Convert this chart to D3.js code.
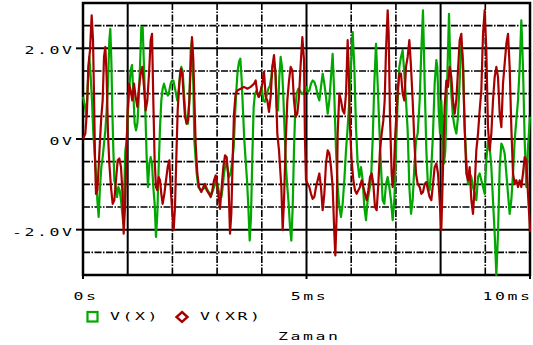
<!DOCTYPE html>
<html>
<head>
<meta charset="utf-8">
<script src="https://cdn.jsdelivr.net/npm/d3@7/dist/d3.min.js"></script>
<style>
  html, body { margin: 0; padding: 0; background: #fff; }
  svg { display: block; }
</style>
</head>
<body>
<svg id="chart" width="533" height="345"></svg>
<script>
// Transient analysis: V(X) and V(XR), 0 .. 10 ms

// V(X) samples: time (ms) and voltage (V)
const timeX = [
  0,0.045,0.075,0.104,0.142,0.172,0.201,0.231,0.261,0.291,
  0.321,0.350,0.380,0.410,0.440,0.470,0.500,0.529,0.559,0.589,
  0.611,0.634,0.656,0.679,0.701,0.731,0.761,0.790,0.820,0.850,
  0.880,0.902,0.925,0.947,0.977,1.007,1.037,1.066,1.096,1.126,
  1.156,1.186,1.216,1.245,1.275,1.305,1.335,1.365,1.394,1.424,
  1.454,1.484,1.514,1.544,1.573,1.603,1.633,1.663,1.693,1.723,
  1.752,1.782,1.812,1.842,1.872,1.902,1.931,1.961,1.991,2.021,
  2.051,2.081,2.110,2.140,2.170,2.200,2.230,2.260,2.289,2.319,
  2.349,2.379,2.409,2.438,2.468,2.491,
  2.543,2.580,2.632,2.692,2.752,2.811,2.871,2.931,2.990,3.050,
  3.095,3.125,3.154,3.192,3.229,3.266,3.303,3.341,3.371,3.400,
  3.430,3.460,3.490,3.520,3.550,3.579,3.609,3.639,3.669,3.699,
  3.729,3.758,3.788,3.818,3.848,3.885,3.922,3.960,3.997,4.034,
  4.072,4.109,4.146,4.183,4.213,4.243,4.273,4.303,4.333,4.362,
  4.392,4.422,4.452,4.482,4.512,4.541,4.571,4.601,4.631,4.661,
  4.691,4.720,4.750,4.780,4.817,4.855,4.892,4.929,4.966,
  4.989,5.026,5.063,5.101,5.138,5.175,5.213,5.250,5.287,5.324,
  5.362,5.399,5.436,5.474,5.511,5.548,5.585,5.623,5.660,5.697,
  5.735,5.772,5.809,5.846,5.884,5.921,5.958,5.995,6.033,6.070,
  6.107,6.145,6.182,6.219,6.256,6.294,6.331,6.368,6.406,6.443,
  6.480,6.517,6.555,6.592,6.629,6.667,6.704,6.741,6.779,6.816,
  6.853,6.890,6.928,6.965,7.002,7.040,7.077,7.114,7.151,7.189,
  7.226,7.263,7.301,7.338,7.375,7.412,7.450,7.487,
  7.532,7.569,7.606,7.644,7.681,7.718,7.755,7.793,7.830,7.867,
  7.905,7.927,7.957,7.987,8.016,8.054,8.076,8.106,8.136,8.166,
  8.188,8.218,8.240,8.277,8.315,8.352,8.389,8.427,8.464,8.501,
  8.538,8.576,8.613,8.650,8.688,8.725,8.762,8.799,8.837,8.874,
  8.911,8.949,8.986,9.023,9.060,9.098,9.135,9.172,9.210,9.247,
  9.284,9.322,9.359,9.396,9.433,9.471,9.508,9.545,9.582,9.620,
  9.657,9.694,9.732,9.769,9.806,9.843,9.881,9.918,9.955,10
];
const valueX = [
  0.93,0.71,0.49,1.15,1.81,1.37,0.85,0.12,-0.32,-0.76,
  -1.35,-1.72,-1.06,-0.62,-0.40,-0.10,0.19,0.63,1.22,2.18,
  2.43,1.74,0.63,-0.25,-0.91,-1.06,-1.28,-1.06,-1.13,-1.35,
  -1.65,-1.87,-1.06,-0.25,-0.03,0.63,1.15,1.51,1.63,1.00,
  0.34,0.19,0.34,0.85,1.59,2.47,2.47,1.59,0.63,-0.40,
  -1.06,-0.54,-0.40,-0.54,-1.06,-1.43,-2.16,-1.65,-0.62,0.26,
  0.85,1.11,1.22,1.11,1.00,0.96,1.07,1.22,1.29,1.29,
  1.15,1.00,0.85,1.07,1.44,1.59,1.48,1.00,0.56,0.34,
  0.34,0.85,1.96,2.18,1.22,-0.03,
  -0.76,-1.06,-1.13,-1.10,-1.06,-1.17,-1.24,-1.06,-0.91,-1.21,
  -1.28,-1.06,-0.76,-0.54,-0.62,-0.84,-0.76,-0.47,-0.18,0.49,
  1.07,1.51,1.70,1.77,1.29,0.63,-0.03,-0.47,-0.91,-1.50,
  -2.24,-1.72,-0.40,0.71,1.00,1.07,0.93,0.96,1.15,0.85,
  0.82,0.96,1.11,1.18,1.37,1.63,1.70,1.51,0.71,0.63,
  1.37,1.81,1.59,0.93,0.12,-0.62,-1.06,-1.43,-1.94,-2.24,
  -1.50,-0.25,0.71,1.00,1.11,1.07,1.00,1.00,1.11,
  1.15,1.04,1.07,1.22,1.29,1.26,1.15,0.96,0.85,1.15,
  1.44,1.22,0.93,0.56,0.85,1.37,1.88,0.93,-0.25,-1.06,
  -1.50,-1.72,-1.43,-0.91,-0.25,0.26,0.85,1.59,2.36,1.59,
  0.26,-0.54,-0.84,-0.62,-0.91,-1.50,-1.79,-1.35,-1.13,-0.91,
  -0.03,1.22,2.10,1.22,0.26,-0.62,-1.35,-1.43,-0.99,-0.84,
  -1.06,-1.35,-1.79,-1.35,-0.25,0.85,1.59,1.81,1.96,1.44,
  0.85,0.19,-1.06,-1.65,-1.35,-0.62,-0.03,0.12,
  0.85,1.96,2.84,1.22,-0.25,-1.06,-1.13,-0.62,0.12,1.22,
  1.74,1.59,0.63,0.12,0.85,-0.03,-0.54,-0.25,0.85,1.96,
  2.76,1.59,1.00,0.49,0.26,0.12,0.49,1.29,2.10,1.74,
  0.26,-0.47,-0.99,-0.76,-0.84,-1.06,-1.21,-1.35,-0.84,-0.76,
  -0.91,-1.06,-1.21,-0.47,-0.03,-0.18,-0.62,-1.35,-2.09,-3.0,
  -2.09,-0.62,-0.10,-0.18,-0.32,-0.76,-1.21,-1.65,-1.35,-0.76,
  -0.03,0.41,0.85,1.59,2.62,1.59,-0.03,-1.06,-0.18,0.49
];

// V(XR) samples: time (ms) and voltage (V)
const timeXR = [
  0,0.052,0.089,0.119,0.157,0.194,0.224,0.246,0.268,0.291,
  0.321,0.350,0.380,0.410,0.440,0.470,0.500,0.529,0.559,0.589,
  0.626,0.664,0.701,0.738,0.776,0.813,0.850,0.880,0.910,0.940,
  0.969,0.999,1.029,1.066,1.104,1.141,1.178,1.216,1.253,1.290,
  1.327,1.365,1.402,1.439,1.477,1.514,1.544,1.573,1.603,1.633,
  1.663,1.693,1.723,1.752,1.782,1.820,1.857,1.894,1.931,1.961,
  1.998,2.028,2.058,2.088,2.118,2.155,2.192,2.222,2.252,2.282,
  2.319,2.349,2.379,2.409,2.438,2.468,
  2.520,2.558,2.595,2.647,2.692,2.729,2.767,2.819,2.856,2.893,
  2.931,2.968,3.005,3.043,3.065,3.102,3.139,3.177,3.214,3.251,
  3.289,3.318,3.348,3.378,3.415,3.453,3.527,3.602,3.676,3.751,
  3.826,3.863,3.900,3.937,3.975,4.012,4.049,4.087,4.124,4.161,
  4.198,4.236,4.273,4.310,4.347,4.385,4.437,4.467,4.497,4.534,
  4.571,4.609,4.646,4.683,4.720,4.758,4.795,4.832,4.870,4.907,
  4.944,4.966,
  4.989,5.026,5.063,5.101,5.138,5.175,5.213,5.250,5.287,5.324,
  5.362,5.399,5.436,5.474,5.511,5.548,5.585,5.623,5.645,5.675,
  5.697,5.735,5.772,5.809,5.846,5.884,5.921,5.943,5.973,6.010,
  6.048,6.085,6.122,6.160,6.197,6.234,6.271,6.309,6.346,6.383,
  6.421,6.458,6.495,6.532,6.570,6.607,6.644,6.682,6.719,6.749,
  6.779,6.816,6.838,6.868,6.905,6.928,6.957,6.987,7.017,7.047,
  7.077,7.114,7.151,7.189,7.226,7.263,7.301,7.338,7.375,7.412,
  7.450,7.487,
  7.532,7.569,7.606,7.644,7.681,7.718,7.755,7.793,7.830,7.867,
  7.905,7.942,7.979,8.016,8.054,8.091,8.128,8.166,8.203,8.240,
  8.277,8.315,8.352,8.389,8.427,8.464,8.501,8.538,8.576,8.613,
  8.650,8.688,8.725,8.762,8.799,8.837,8.874,8.911,8.949,8.986,
  9.023,9.060,9.098,9.135,9.172,9.210,9.247,9.284,9.322,9.359,
  9.396,9.433,9.471,9.508,9.545,9.582,9.620,9.657,9.694,9.732,
  9.769,9.806,9.843,9.881,9.918,9.955,9.993,10
];
const valueXR = [
  0,0.12,0.63,1.59,1.96,2.73,2.18,1.00,-0.40,-1.21,
  -1.13,-0.62,-0.03,0.49,0.85,1.81,2.03,1.37,0.12,-0.54,
  -1.06,-1.43,-1.35,-0.91,-0.47,-0.43,-0.62,-1.13,-2.09,-1.50,
  -0.47,0.63,1.22,1.07,0.85,1.22,0.93,0.71,1.15,1.44,
  1.59,1.15,0.63,0.85,1.44,2.18,2.32,0.85,-0.47,-1.06,
  -1.13,-0.84,-0.91,-1.21,-1.43,-1.21,-0.91,-0.62,-0.47,-1.06,
  -1.65,-2.01,-1.50,-0.40,0.63,1.22,1.55,1.44,0.93,0.49,
  0.34,0.41,0.85,1.59,2.25,1.74,
  -0.10,-0.76,-1.06,-1.17,-1.06,-0.99,-1.13,-1.21,-1.28,-1.13,
  -0.91,-0.80,-1.06,-1.35,-1.54,-1.06,-0.62,-0.36,-0.40,-0.84,
  -2.09,-1.65,-0.47,0.56,1.00,1.07,1.11,1.15,1.11,1.15,
  1.22,1.29,1.00,0.93,1.07,1.22,1.48,0.93,0.85,0.60,
  0.93,1.59,1.85,1.37,0.12,-0.25,-1.06,-2.01,-1.35,-0.10,
  0.85,1.29,1.59,1.51,0.85,0.49,0.56,0.93,1.66,2.25,
  1.74,-0.03,
  -0.91,-0.99,-1.06,-1.21,-1.32,-1.28,-1.06,-0.91,-0.76,-1.06,
  -1.57,-1.21,-0.54,-0.25,-0.32,-0.62,-1.06,-2.09,-2.57,-1.65,
  0.12,1.00,0.85,0.63,0.56,1.00,2.18,1.59,0.26,-0.47,
  -0.91,-1.13,-1.21,-1.13,-1.06,-0.91,-1.06,-1.21,-1.35,-1.13,
  -0.84,-0.76,-0.99,-1.50,-1.57,-0.99,-0.25,0.12,0.41,0.85,
  1.96,2.84,2.32,0.49,-0.76,-1.06,-0.62,0.12,0.63,1.15,
  1.44,1.44,1.00,0.85,1.59,1.81,2.18,1.59,0.85,-0.03,
  -0.76,-0.99,
  -1.06,-1.21,-1.17,-0.99,-0.95,-1.13,-1.28,-1.35,-0.99,-0.62,
  -0.54,-0.76,-1.35,-2.01,-0.62,0.71,1.29,1.15,1.59,1.37,
  0.85,0.56,0.85,1.51,2.18,2.32,1.59,0.26,-0.76,-0.91,
  -0.62,-1.35,-1.65,-1.06,-0.25,0.12,0.63,1.07,2.32,2.84,
  1.96,0.26,-0.25,0.12,0.85,1.37,1.59,1.37,0.56,0.26,
  1.22,1.66,2.10,2.32,1.59,0.26,-0.76,-0.99,-0.91,-1.06,
  -0.91,-1.06,-0.76,-0.40,-0.47,-1.21,-1.87,-2.05
];

// Axis ticks and labels
const yTickValues = [2, 0, -2];
const yTickLabels = ["2.0V", "0V", "-2.0V"];
const xTickValues = [0, 5, 10];
const xTickLabels = ["0s", "5ms", "10ms"];
const seriesNames = ["V(X)", "V(XR)"];
const xAxisTitle = "Zaman";

// Grid: every 1 ms and every 0.5 V; some lines drawn solid
const xGridValues = [1, 2, 3, 4, 5, 6, 7, 8, 9];
const xGridSolid = [1, 5, 8];
const yGridValues = [2.5, 2, 1.5, 1, 0.5, 0, -0.5, -1, -1.5, -2, -2.5];
const yGridSolid = [2, 0, -2];

const GREEN = "#00a800";
const RED = "#a80000";

function zipSeries(t, v) {
  if (t.length !== v.length) throw new Error("series length mismatch " + t.length + " vs " + v.length);
  return t.map((d, i) => ({ t: d, v: v[i] }));
}

const dataX = zipSeries(timeX, valueX);
const dataXR = zipSeries(timeXR, valueXR);

const svg = d3.select("#chart");
const plot = { left: 83, right: 530, top: 3, bottom: 275 };

const x = d3.scaleLinear().domain([0, 10]).range([plot.left, plot.right]);
const y = d3.scaleLinear().domain([-3, 3]).range([plot.bottom, plot.top]);

// Grid lines
const grid = svg.append("g").attr("stroke", "#000");
grid.selectAll("line.vg").data(xGridValues).enter().append("line")
  .attr("x1", d => x(d)).attr("x2", d => x(d))
  .attr("y1", plot.top).attr("y2", plot.bottom)
  .attr("stroke-width", d => xGridSolid.includes(d) ? 2 : 1.6)
  .attr("stroke-dasharray", d => xGridSolid.includes(d) ? null : "7,1.5,1.5,1.5");
grid.selectAll("line.hg").data(yGridValues).enter().append("line")
  .attr("x1", plot.left).attr("x2", plot.right)
  .attr("y1", d => y(d)).attr("y2", d => y(d))
  .attr("stroke-width", d => yGridSolid.includes(d) ? 2 : 1.6)
  .attr("stroke-dasharray", d => yGridSolid.includes(d) ? null : "7,1.5,1.5,1.5");

// Frame
svg.append("rect")
  .attr("x", plot.left).attr("y", plot.top)
  .attr("width", plot.right - plot.left).attr("height", plot.bottom - plot.top)
  .attr("fill", "none").attr("stroke", "#000").attr("stroke-width", 2.5);

// Axis tick marks
svg.append("g").selectAll("line").data(yTickValues).enter().append("line")
  .attr("x1", plot.left - 7).attr("x2", plot.left)
  .attr("y1", d => y(d)).attr("y2", d => y(d))
  .attr("stroke", "#000").attr("stroke-width", 2);
svg.append("g").selectAll("line").data(xTickValues).enter().append("line")
  .attr("x1", d => x(d)).attr("x2", d => x(d))
  .attr("y1", plot.bottom).attr("y2", plot.bottom + 4)
  .attr("stroke", "#000").attr("stroke-width", 2);

// Wide monospaced label text
function label(px, py, str, anchor) {
  svg.append("text")
    .attr("transform", `translate(${px},${py}) scale(1.5,1)`)
    .attr("text-anchor", anchor)
    .attr("font-family", "DejaVu Sans Mono, monospace")
    .attr("font-size", 11)
    .attr("letter-spacing", "1.7px")
    .attr("fill", "#000")
    .text(str);
}

yTickValues.forEach((v, i) => label(74.5, y(v) + 6, yTickLabels[i], "end"));
xTickValues.forEach((t, i) => {
  if (i === xTickValues.length - 1) label(x(t) + 2.5, 299.5, xTickLabels[i], "end");
  else label(x(t) + 3, 299.5, xTickLabels[i], "middle");
});

// Traces
svg.append("clipPath").attr("id", "plotClip")
  .append("rect")
  .attr("x", plot.left - 1).attr("y", plot.top - 1)
  .attr("width", plot.right - plot.left + 2).attr("height", plot.bottom - plot.top + 2);

const line = d3.line().x(d => x(d.t)).y(d => y(d.v));
const traces = svg.append("g").attr("clip-path", "url(#plotClip)");
traces.append("path").datum(dataX)
  .attr("d", line).attr("fill", "none")
  .attr("stroke", GREEN).attr("stroke-width", 2.2).attr("stroke-linejoin", "round");
traces.append("path").datum(dataXR)
  .attr("d", line).attr("fill", "none")
  .attr("stroke", RED).attr("stroke-width", 2.2).attr("stroke-linejoin", "round");

// Legend
svg.append("rect")
  .attr("x", 87.5).attr("y", 312).attr("width", 10).attr("height", 9.5)
  .attr("fill", "none").attr("stroke", GREEN).attr("stroke-width", 2.2);
label(110, 320, seriesNames[0], "start");
svg.append("path")
  .attr("d", "M182,312 L187.5,317 L182,322 L176.5,317 Z")
  .attr("fill", "none").attr("stroke", RED).attr("stroke-width", 2.4);
label(200, 320, seriesNames[1], "start");
label(278, 340, xAxisTitle, "start");
</script>
</body>
</html>
